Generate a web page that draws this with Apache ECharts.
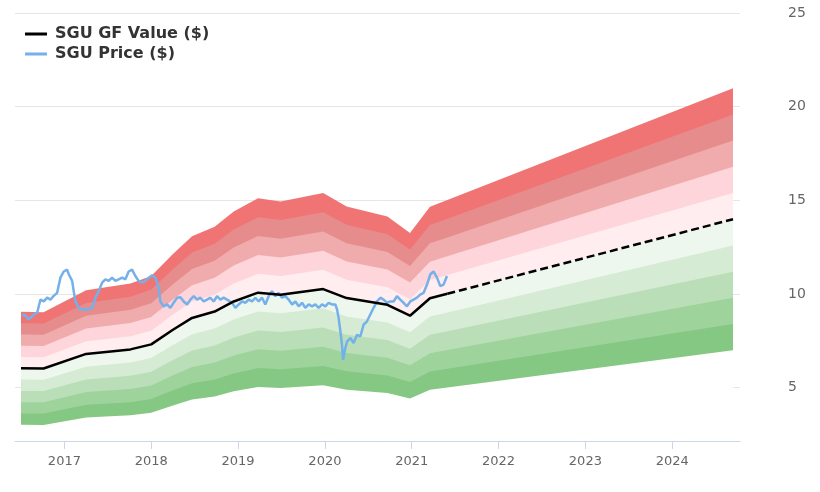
<!DOCTYPE html>
<html>
<head>
<meta charset="utf-8">
<script src="https://cdn.jsdelivr.net/npm/echarts@6/dist/echarts.min.js"></script>
<style>html,body{margin:0;padding:0;background:#fff}#c{width:820px;height:492px}</style>
</head>
<body>
<div id="c"></div>
<script>
// GF Value (decimal year, $); last point is the projection end
const gfYears  = [2016.50, 2016.76, 2017.25, 2017.76, 2018.00, 2018.25, 2018.47, 2018.73, 2018.95, 2019.23, 2019.49, 2019.98, 2020.25, 2020.72, 2020.98, 2021.21, 2021.41, 2024.70];
const gfValues = [6.03, 6.02, 6.80, 7.04, 7.31, 8.09, 8.72, 9.06, 9.60, 10.07, 9.96, 10.26, 9.78, 9.42, 8.84, 9.77, 10.01, 13.99];
const projectionStart = 16; // index where the dashed projection begins

// band boundary multipliers of GF value (top to bottom) and the colour of the band below each boundary
const bandFactors = [1.5, 1.4, 1.3, 1.2, 1.1, 1.0, 0.9, 0.8, 0.7, 0.6, 0.5];
const bandColors  = ['#f07474', '#e68c8c', '#f0acac', '#fdd5da', '#ffedef', '#eef7ee', '#d5ebd3', '#badfb8', '#9ed49c', '#84c883', '#ffffff'];

// SGU Price (decimal year, $)
const priceYears = [2016.513,2016.551,2016.586,2016.609,2016.647,2016.686,2016.724,2016.762,2016.801,2016.839,2016.877,2016.916,2016.954,2016.992,2017.031,2017.050,2017.089,2017.107,2017.127,2017.165,2017.204,2017.261,2017.319,2017.357,2017.395,2017.434,2017.472,2017.510,2017.549,2017.587,2017.625,2017.664,2017.702,2017.740,2017.779,2017.817,2017.855,2017.895,2017.933,2017.971,2018.010,2018.048,2018.086,2018.105,2018.143,2018.182,2018.220,2018.258,2018.298,2018.336,2018.374,2018.413,2018.451,2018.489,2018.528,2018.566,2018.604,2018.643,2018.681,2018.719,2018.758,2018.796,2018.834,2018.873,2018.931,2018.969,2019.007,2019.046,2019.084,2019.122,2019.161,2019.199,2019.237,2019.276,2019.314,2019.352,2019.391,2019.429,2019.467,2019.506,2019.544,2019.582,2019.622,2019.660,2019.698,2019.737,2019.775,2019.813,2019.852,2019.890,2019.928,2019.967,2020.005,2020.043,2020.082,2020.120,2020.140,2020.158,2020.178,2020.197,2020.209,2020.235,2020.255,2020.293,2020.331,2020.370,2020.408,2020.446,2020.485,2020.523,2020.561,2020.600,2020.638,2020.676,2020.715,2020.753,2020.791,2020.830,2020.868,2020.906,2020.945,2020.983,2021.021,2021.060,2021.098,2021.137,2021.176,2021.214,2021.252,2021.291,2021.329,2021.367,2021.406];
const priceValues = [8.90,8.85,8.63,8.60,8.90,9.00,9.70,9.60,9.80,9.70,9.90,10.06,10.87,11.20,11.30,11.05,10.70,10.15,9.60,9.26,9.17,9.17,9.26,9.80,10.15,10.60,10.78,10.70,10.87,10.70,10.78,10.87,10.78,11.20,11.30,10.96,10.70,10.60,10.70,10.87,11.00,10.87,10.33,9.60,9.34,9.44,9.26,9.53,9.80,9.83,9.60,9.44,9.70,9.88,9.70,9.80,9.60,9.70,9.80,9.60,9.88,9.70,9.80,9.70,9.53,9.26,9.44,9.60,9.53,9.70,9.60,9.80,9.60,9.80,9.44,9.88,10.15,9.88,10.06,9.80,9.88,9.70,9.44,9.60,9.34,9.53,9.26,9.44,9.34,9.44,9.26,9.44,9.34,9.53,9.44,9.44,9.17,8.72,8.00,7.28,6.48,7.10,7.46,7.65,7.38,7.82,7.73,8.36,8.54,8.90,9.26,9.60,9.80,9.70,9.53,9.60,9.60,9.88,9.70,9.53,9.34,9.60,9.70,9.80,9.97,10.06,10.50,11.05,11.20,10.87,10.42,10.50,10.96];

const xTicks = [2017, 2018, 2019, 2020, 2021, 2022, 2023, 2024];
const yTicks = [5, 10, 15, 20, 25];

const series = [];
// each boundary filled down to the axis minimum; lower boundaries painted over higher ones
bandFactors.forEach((f, b) => {
  series.push({
    type: 'line', symbol: 'none', silent: true, z: 2,
    lineStyle: { width: 0 },
    areaStyle: { color: bandColors[b], opacity: 1, origin: 'start' },
    data: gfYears.map((x, i) => [x, gfValues[i] * f])
  });
});
series.push({
  name: 'SGU Price ($)', type: 'line', symbol: 'none', z: 5,
  lineStyle: { color: '#74b0ea', width: 2.5 }, itemStyle: { color: '#74b0ea' },
  data: priceYears.map((x, i) => [x, priceValues[i]])
});
series.push({
  name: 'SGU GF Value ($)', type: 'line', symbol: 'none', z: 6,
  lineStyle: { color: '#000', width: 2.5 }, itemStyle: { color: '#000' },
  data: gfYears.slice(0, projectionStart + 1).map((x, i) => [x, gfValues[i]])
});
series.push({
  type: 'line', symbol: 'none', z: 6,
  lineStyle: { color: '#000', width: 2.5, type: [8, 4] },
  data: gfYears.slice(projectionStart).map((x, i) => [x, gfValues[projectionStart + i]])
});

const chart = echarts.init(document.getElementById('c'), null, { renderer: 'canvas' });
chart.setOption({
  animation: false,
  backgroundColor: '#fff',
  grid: { left: 15, right: 80, top: 13, bottom: 51, containLabel: false },
  legend: {
    orient: 'vertical', left: 20, top: 21,
    icon: 'rect', itemWidth: 22, itemHeight: 3, itemGap: 4,
    data: ['SGU GF Value ($)', 'SGU Price ($)'],
    textStyle: { fontFamily: 'DejaVu Sans', fontWeight: 'bold', fontSize: 16, color: '#333', padding: [0, 0, 0, 3] }
  },
  xAxis: {
    type: 'value', min: 2016.5 - 6 * 8.2 / 712, max: 2016.5 - 6 * 8.2 / 712 + 8.2 * 725 / 712, z: 8,
    axisLine: { show: true, onZero: false, lineStyle: { color: '#ccd6eb', width: 1 } },
    axisTick: { show: true, length: 8, lineStyle: { color: '#ccd6eb' }, customValues: xTicks },
    axisLabel: { customValues: xTicks, formatter: v => String(Math.round(v)), color: '#666', fontFamily: 'DejaVu Sans', fontSize: 13, margin: 14 },
    splitLine: { show: false }
  },
  yAxis: {
    type: 'value', position: 'right', min: 2.15, max: 25,
    axisLine: { show: false },
    axisTick: { show: false, customValues: yTicks },
    axisLabel: { customValues: yTicks, color: '#666', fontFamily: 'DejaVu Sans', fontSize: 14, margin: 48 },
    splitLine: { show: true, lineStyle: { color: '#e6e6e6', width: 1 } }
  },
  series: series
});
</script>
</body>
</html>
